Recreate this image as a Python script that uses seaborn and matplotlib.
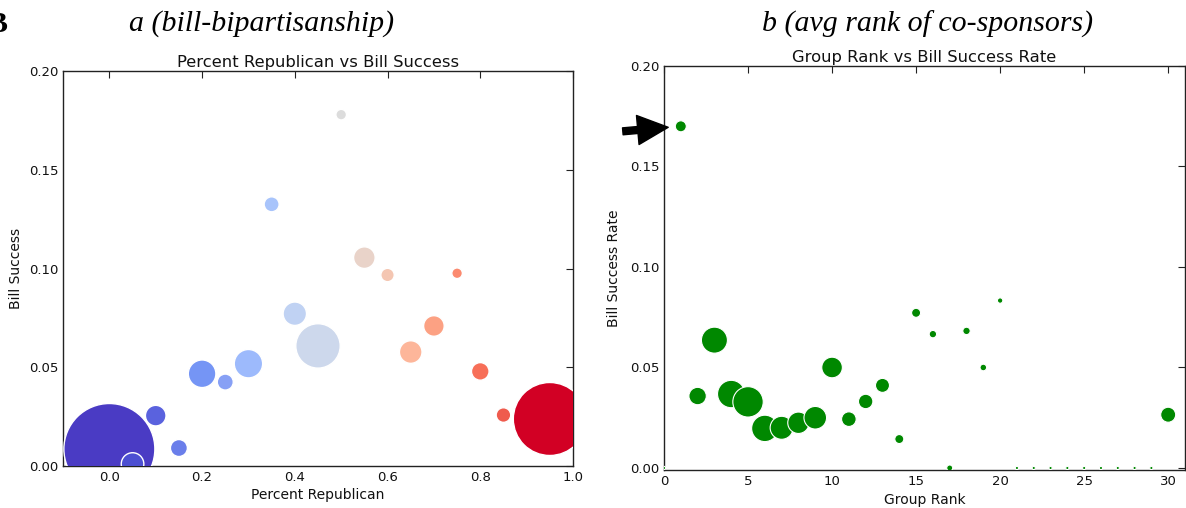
import numpy as np
import pandas as pd
import matplotlib
matplotlib.use("Agg")
import matplotlib.pyplot as plt
import seaborn as sns

# ---------------- data ----------------
pct_republican = [0.0, 0.05, 0.10, 0.15, 0.20, 0.25, 0.30, 0.35, 0.40, 0.45,
                  0.50, 0.55, 0.60, 0.65, 0.70, 0.75, 0.80, 0.85, 0.95]
bill_success = [0.0086, 0.0010, 0.0255, 0.0091, 0.0467, 0.0425, 0.0518, 0.1325,
                0.0771, 0.0608, 0.1779, 0.1055, 0.0967, 0.0577, 0.0709, 0.0976,
                0.0479, 0.0258, 0.0238]
# marker radius (px) -> bubble size
bubble_radius_a = [45.5, 11.3, 10.3, 8.5, 13.8, 8.0, 14.2, 7.5, 11.7, 22.2,
                   5.3, 10.8, 6.7, 11.3, 10.3, 5.3, 8.8, 7.3, 36.5]
point_colors_a = ["#4a3bc4", "#4c4fd2", "#5a62de", "#6a7eea", "#7595f5", "#87a0f5",
                  "#9dbafc", "#a8c4fb", "#c0d2f3", "#cdd8ec", "#dcdcdc", "#e9d3c9",
                  "#f4c6b2", "#fdb69a", "#fca183", "#fb8a6f", "#f76f58", "#ef5b4d",
                  "#d20024"]

group_rank = list(range(0, 31))
success_rate = [0.0, 0.170, 0.0358, 0.0636, 0.0368, 0.0329, 0.0197, 0.0200, 0.0225,
                0.0250, 0.0500, 0.0243, 0.0331, 0.0411, 0.0144, 0.0772, 0.0666,
                0.0, 0.0682, 0.0500, 0.0833, 0.0, 0.0, 0.0, 0.0, 0.0, 0.0, 0.0,
                0.0, 0.0, 0.0265]
bubble_radius_b = [1.6, 5.5, 8.7, 13.0, 13.7, 15.2, 13.2, 11.5, 10.7, 11.3, 10.3,
                   7.3, 7.2, 7.0, 4.5, 4.5, 3.7, 3.0, 3.7, 3.3, 2.7, 1.6, 1.6, 1.6,
                   1.6, 1.6, 1.6, 1.6, 1.6, 1.6, 7.5]

DPI = 100
def radius_to_s(r):
    return (2 * r * 72.0 / DPI) ** 2

df_a = pd.DataFrame({"pct": pct_republican, "succ": bill_success,
                     "size": [radius_to_s(r) for r in bubble_radius_a],
                     "idx": list(range(len(pct_republican)))})
df_b = pd.DataFrame({"rank": group_rank, "rate": success_rate,
                     "size": [radius_to_s(r) for r in bubble_radius_b]})

# ---------------- style ----------------
sns.set_style("white")
plt.rcParams.update({
    "font.family": ["DejaVu Sans"],
    "text.color": "#111111", "axes.labelcolor": "#111111",
    "xtick.direction": "in", "ytick.direction": "in",
    "xtick.top": True, "ytick.right": True,
    "xtick.major.size": 5, "ytick.major.size": 5,
    "xtick.major.width": 0.8, "ytick.major.width": 0.8,
    "xtick.color": "#222222", "ytick.color": "#222222",
    "xtick.labelcolor": "#111111", "ytick.labelcolor": "#111111",
    "axes.edgecolor": "#222222", "axes.linewidth": 1.0,
    "xtick.labelsize": 9.5, "ytick.labelsize": 9.5,
})

fig = plt.figure(figsize=(11.86, 5.08), dpi=DPI)
ax1 = fig.add_axes([63/1186, 1 - 466/508, (573-63)/1186, (466-71)/508])
ax2 = fig.add_axes([664/1186, 1 - 470/508, (1185-664)/1186, (470-66)/508])

# panel a
sns.scatterplot(data=df_a, x="pct", y="succ", hue="idx",
                palette=dict(zip(df_a["idx"], point_colors_a)),
                size="size", sizes=(df_a["size"].min(), df_a["size"].max()),
                size_norm=(df_a["size"].min(), df_a["size"].max()),
                edgecolor="white", linewidth=1.0, legend=False, ax=ax1, zorder=3)
ax1.set_xlim(-0.1, 1.0)
ax1.set_ylim(0, 0.2)
ax1.set_xticks([0.0, 0.2, 0.4, 0.6, 0.8, 1.0])
ax1.set_yticks([0.0, 0.05, 0.10, 0.15, 0.20])
ax1.set_yticklabels(["0.00", "0.05", "0.10", "0.15", "0.20"])
ax1.set_title("Percent Republican vs Bill Success", fontsize=11.8, pad=3)
ax1.set_xlabel("Percent Republican", fontsize=10, labelpad=3)
ax1.set_ylabel("Bill Success", fontsize=10, labelpad=4)

# panel b
sns.scatterplot(data=df_b, x="rank", y="rate", color="#008800",
                size="size", sizes=(df_b["size"].min(), df_b["size"].max()),
                size_norm=(df_b["size"].min(), df_b["size"].max()),
                edgecolor="white", linewidth=0.8, legend=False, ax=ax2, zorder=3)
ax2.set_xlim(0, 31)
ax2.set_ylim(-0.001, 0.2)
ax2.set_xticks([0, 5, 10, 15, 20, 25, 30])
ax2.set_yticks([0.0, 0.05, 0.10, 0.15, 0.20])
ax2.set_yticklabels(["0.00", "0.05", "0.10", "0.15", "0.20"])
ax2.set_title("Group Rank vs Bill Success Rate", fontsize=11.8, pad=3)
ax2.set_xlabel("Group Rank", fontsize=10, labelpad=4)
ax2.set_ylabel("Bill Success Rate", fontsize=10, labelpad=6)

ax2.annotate("", xy=(0.25, 0.1695), xytext=(-2.45, 0.1675),
             xycoords="data", textcoords="data", annotation_clip=False,
             arrowprops=dict(arrowstyle="simple,head_length=1.1,head_width=1.05,tail_width=0.25",
                             color="black", mutation_scale=20,
                             shrinkA=0, shrinkB=0))

# panel headings
fig.text(262/1186, 1 - 24/508, "a (bill-bipartisanship)", family="Liberation Serif",
         style="italic", fontsize=21.5, ha="center", va="center", color="black")
fig.text(928/1186, 1 - 24/508, "b (avg rank of co-sponsors)", family="Liberation Serif",
         style="italic", fontsize=21.5, ha="center", va="center", color="black")
fig.text(8/1186, 1 - 24/508, "B", family="Liberation Serif", weight="bold",
         fontsize=21.5, ha="right", va="center", color="black")

fig.savefig("out.png", dpi=DPI)
